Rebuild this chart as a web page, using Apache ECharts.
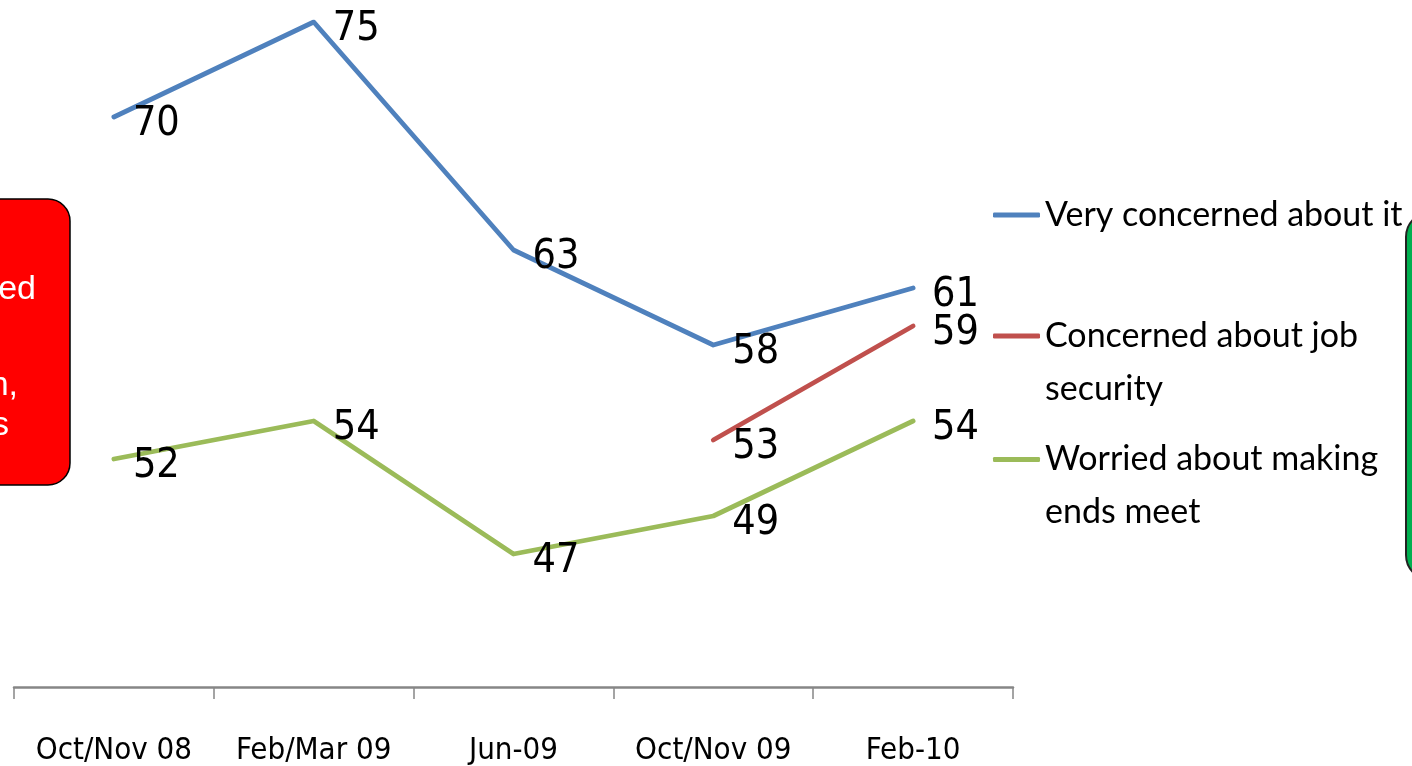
<!DOCTYPE html>
<html>
<head>
<meta charset="utf-8">
<script src="https://cdn.jsdelivr.net/npm/echarts@6/dist/echarts.min.js"></script>
<style>
html,body{margin:0;padding:0;background:#fff;}
#chart{width:1412px;height:766px;}
</style>
</head>
<body>
<div id="chart"></div>
<script>
const categories = ['Oct/Nov 08', 'Feb/Mar 09', 'Jun-09', 'Oct/Nov 09', 'Feb-10'];
const veryConcerned = [70, 75, 63, 58, 61];
const jobSecurity = [null, null, null, 53, 59];
const makingEndsMeet = [52, 54, 47, 49, 54];
const seriesNames = ['Very concerned about it', 'Concerned about job security', 'Worried about making ends meet'];
const legendLabels = {
  'Very concerned about it': 'Very concerned about it',
  'Concerned about job security': '\nConcerned about job\nsecurity',
  'Worried about making ends meet': '\nWorried about making\nends meet'
};
const colors = ['#4F81BD', '#C0504D', '#9BBB59'];

const narrowFont = '"Liberation Sans Narrow", "DejaVu Sans Condensed", "Roboto Condensed", sans-serif';

const chart = echarts.init(document.getElementById('chart'), null, {renderer: 'canvas'});

const labelStyle = {
  show: true,
  position: 'right',
  distance: 19,
  offset: [0, 7],
  fontFamily: narrowFont,
  fontSize: 41,
  color: '#000'
};

function mkSeries(name, data, color) {
  return {
    name: name,
    type: 'line',
    data: data,
    symbol: 'circle',
    symbolSize: 0,
    showSymbol: true,
    connectNulls: false,
    lineStyle: {color: color, width: 4.8, cap: 'round', join: 'round'},
    itemStyle: {color: color},
    label: labelStyle,
    emphasis: {disabled: true},
    animation: false
  };
}

function mkLegend(name, top) {
  return {
    data: [name],
    orient: 'vertical',
    left: 993,
    top: top,
    padding: 0,
    itemWidth: 47,
    itemHeight: 5,
    icon: 'roundRect',
    selectedMode: false,
    formatter: function (n) { return legendLabels[n]; },
    textStyle: {
      fontFamily: 'Lato',
      fontSize: 34,
      color: '#000',
      lineHeight: 53
    }
  };
}

const option = {
  animation: false,
  backgroundColor: '#fff',
  grid: {left: 14, right: 399, top: 22, bottom: 78},
  xAxis: {
    type: 'category',
    data: categories,
    boundaryGap: true,
    axisLine: {show: true, lineStyle: {color: '#868686', width: 2.5}},
    axisTick: {show: true, length: 12, interval: 0, lineStyle: {color: '#868686', width: 1.5}},
    axisLabel: {
      interval: 0,
      fontFamily: narrowFont,
      fontSize: 31,
      color: '#000',
      margin: 48
    },
    splitLine: {show: false}
  },
  yAxis: {
    type: 'value',
    min: 40,
    max: 75,
    show: false
  },
  legend: [
    mkLegend(seriesNames[0], 188.5),
    mkLegend(seriesNames[1], 256.5),
    mkLegend(seriesNames[2], 380)
  ],
  series: [
    mkSeries(seriesNames[0], veryConcerned, colors[0]),
    mkSeries(seriesNames[1], jobSecurity, colors[1]),
    mkSeries(seriesNames[2], makingEndsMeet, colors[2])
  ],
  graphic: [
    {
      type: 'rect',
      shape: {x: -40, y: 199, width: 110, height: 286, r: 22},
      style: {fill: '#FF0000', stroke: '#000', lineWidth: 1.5},
      z: 10
    },
    {type: 'text', x: 36, y: 290, z: 11, style: {text: 'ed', fill: '#fff', font: '34px "Liberation Sans"', align: 'right', verticalAlign: 'middle'}},
    {type: 'text', x: 18, y: 386, z: 11, style: {text: 'n,', fill: '#fff', font: '34px "Liberation Sans"', align: 'right', verticalAlign: 'middle'}},
    {type: 'text', x: 9, y: 426, z: 11, style: {text: 's', fill: '#fff', font: '34px "Liberation Sans"', align: 'right', verticalAlign: 'middle'}},
    {
      type: 'rect',
      shape: {x: 1406, y: 212, width: 80, height: 368, r: 25},
      style: {fill: '#00B050', stroke: '#222', lineWidth: 2},
      z: 10
    }
  ]
};
chart.setOption(option);
</script>
</body>
</html>
